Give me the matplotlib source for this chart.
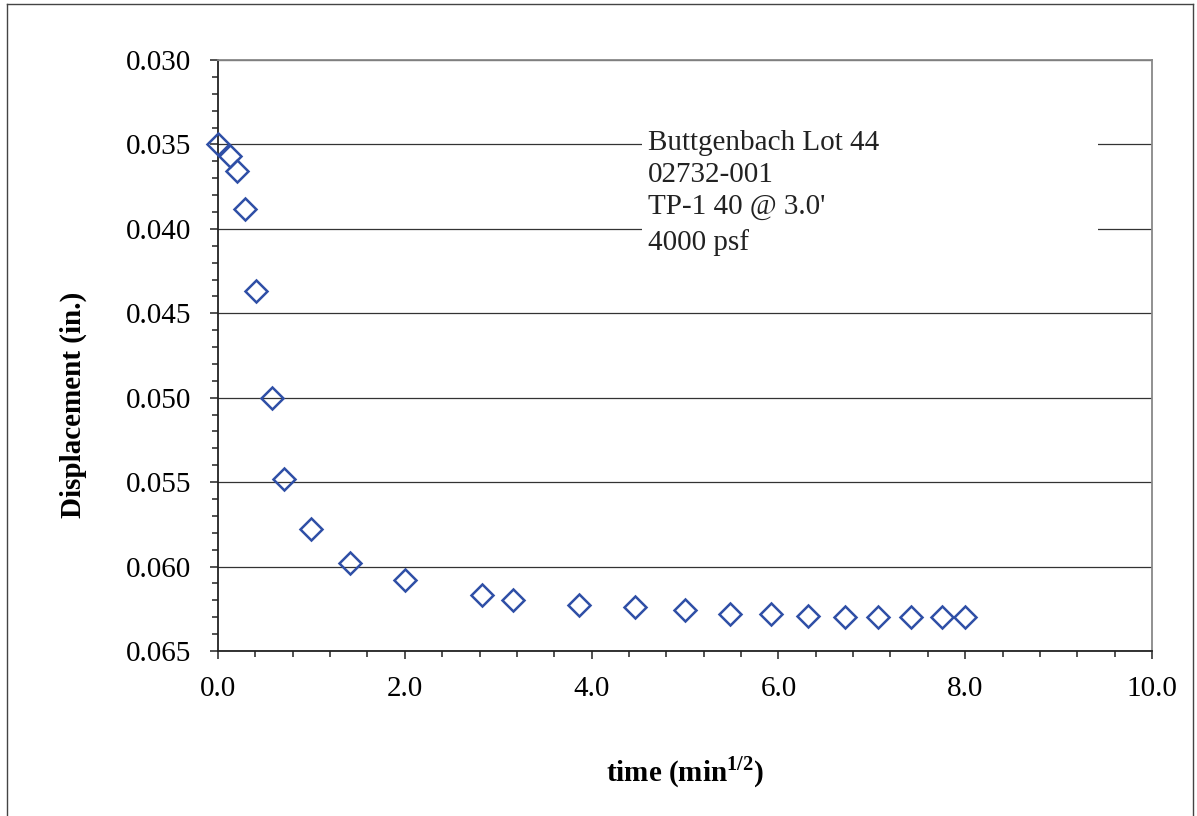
import numpy as np
import matplotlib
matplotlib.use('Agg')
import matplotlib.pyplot as plt
from matplotlib.ticker import MultipleLocator, FormatStrFormatter
from matplotlib.patches import Rectangle
from matplotlib.lines import Line2D

plt.rcParams['font.family'] = 'Liberation Serif'
plt.rcParams['font.size'] = 21
plt.rcParams['mathtext.fontset'] = 'custom'
plt.rcParams['mathtext.rm'] = 'Liberation Serif'
plt.rcParams['mathtext.bf'] = 'Liberation Serif:bold'

# square root of time (min^1/2)
sqrt_time = [0.0, 0.13, 0.20, 0.29, 0.41, 0.58, 0.71, 1.00, 1.41, 2.00,
             2.83, 3.16, 3.87, 4.47, 5.00, 5.48, 5.92, 6.32, 6.71, 7.07,
             7.42, 7.75, 8.00]
# displacement (in.)
displacement = [0.0350, 0.0357, 0.0366, 0.0388, 0.0437, 0.0500, 0.0548, 0.0578,
                0.0598, 0.0608, 0.0617, 0.0620, 0.0623, 0.0624, 0.0626, 0.0628,
                0.0628, 0.0629, 0.0630, 0.0630, 0.0630, 0.0630, 0.0630]

info_lines = ['Buttgenbach Lot 44', '02732-001', "TP-1 40 @ 3.0'", '4000 psf']

fig = plt.figure(figsize=(11.97, 8.16), dpi=100)
ax = fig.add_axes([218/1197, 1 - 651/816, 934/1197, 591/816])

ax.plot(sqrt_time, displacement, linestyle='none', marker='D', markersize=11,
        markerfacecolor='none', markeredgecolor='#2f4fa6', markeredgewidth=1.8,
        zorder=3, clip_on=False)

ax.set_xlim(0, 10)
ax.set_ylim(0.065, 0.030)
ax.xaxis.set_major_locator(MultipleLocator(2))
ax.xaxis.set_minor_locator(MultipleLocator(0.4))
ax.yaxis.set_major_locator(MultipleLocator(0.005))
ax.yaxis.set_minor_locator(MultipleLocator(0.001))
ax.xaxis.set_major_formatter(FormatStrFormatter('%.1f'))
ax.yaxis.set_major_formatter(FormatStrFormatter('%.3f'))
ax.tick_params(which='major', direction='out', length=6, width=1.1, pad=12, color='#222222')
ax.tick_params(which='minor', direction='out', length=4.5, width=1.1, color='#222222')
ax.tick_params(axis='y', which='major', pad=13)

ax.set_axisbelow(True)
ax.grid(True, axis='y', which='major', color='#333333', linewidth=0.9)

for side in ['left', 'bottom']:
    ax.spines[side].set_color('#222222')
    ax.spines[side].set_linewidth(1.3)
for side in ['top', 'right']:
    ax.spines[side].set_color('#888888')
    ax.spines[side].set_linewidth(1.3)

# white text box covering the gridlines
ax.add_patch(Rectangle((0.454, 0.65), 0.488, 0.25, transform=ax.transAxes,
                       facecolor='white', edgecolor='none', zorder=1))
line_y = [0.8596, 0.8054, 0.7513, 0.6904]
for txt, yy in zip(info_lines, line_y):
    ax.text(0.460, yy, txt, transform=ax.transAxes, ha='left', va='center',
            fontsize=21, color='#222222', zorder=4)

ax.set_xlabel(r'time (min$^{\mathbf{1/2}}$)', fontweight='bold', fontsize=21)
ax.set_ylabel('Displacement (in.)', fontweight='bold', fontsize=21)
ax.xaxis.set_label_coords(0.5, -0.175)
ax.yaxis.set_label_coords(-0.140, 0.416)

# outer border of chart area
border = dict(color='#444444', linewidth=1.0, transform=fig.transFigure)
fig.add_artist(Line2D([7/1197, 7/1197], [0, 1 - 4/816], **border))
fig.add_artist(Line2D([7/1197, 1193/1197], [1 - 4/816, 1 - 4/816], **border))
fig.add_artist(Line2D([1193/1197, 1193/1197], [0, 1 - 4/816], **border))

plt.savefig('out.png', dpi=100)
